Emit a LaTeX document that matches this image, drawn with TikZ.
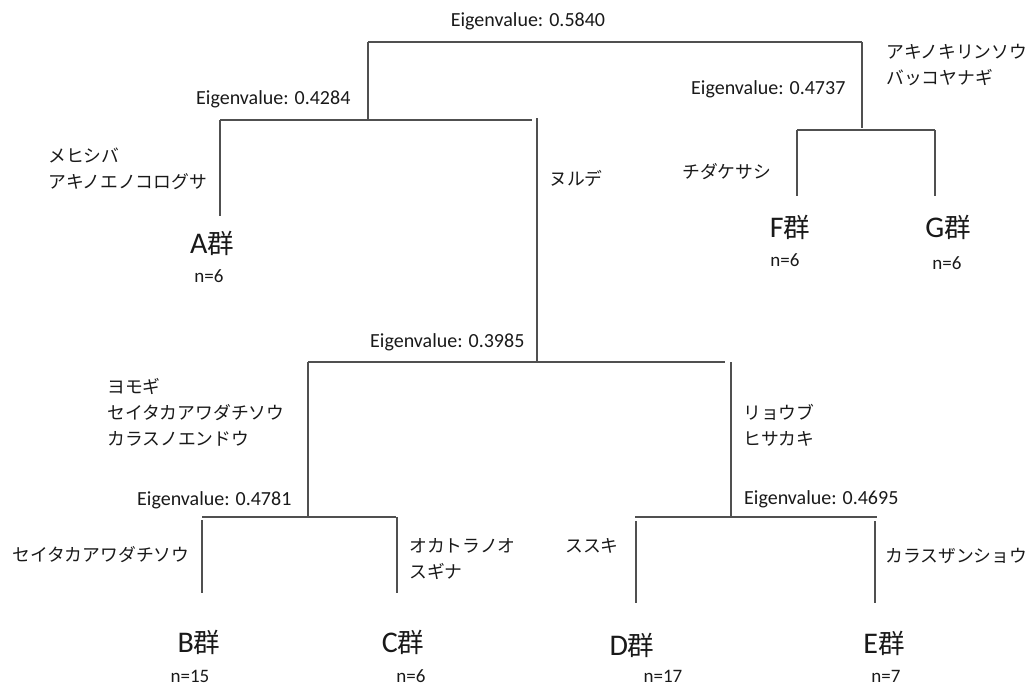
\documentclass[tikz,border=0pt]{standalone}
\usepackage{fontspec}
\setmainfont{Carlito}
\newfontfamily\jp{Noto Sans CJK JP}
\definecolor{linegray}{RGB}{80,80,80}
\definecolor{txt}{RGB}{25,25,25}
\begin{document}
\begin{tikzpicture}[x=1pt,y=-1pt,
  tline/.style={draw=linegray, line width=1.1pt},
  ev/.style={font=\fontsize{20}{24}\selectfont, inner sep=0pt, text=txt},
  sp/.style={font=\jp\fontsize{17.8}{26}\selectfont, align=left, inner sep=0pt, anchor=west, text=txt},
  grp/.style={font=\fontsize{30}{34}\selectfont, inner sep=0pt, text=txt},
  cnt/.style={font=\fontsize{19}{22}\selectfont, inner sep=0pt, text=txt}]
\useasboundingbox (0,0) rectangle (1028,686);
\newcommand{\gun}{{\jp\fontsize{26.5}{30}\selectfont 群}}
% coordinates of the tree
\coordinate (r1) at (368,42);  \coordinate (r2) at (862,42);
\coordinate (r1b) at (368,119); \coordinate (r2b) at (862,128);
\coordinate (s2a) at (220,120); \coordinate (s2b) at (532,120);
\coordinate (Aend) at (220,216);
\coordinate (n1) at (537,118); \coordinate (n1b) at (537,361);
\coordinate (s3a) at (308,362); \coordinate (s3b) at (725,362);
\coordinate (s3ab) at (308,517);
\coordinate (s3c) at (731,362); \coordinate (s3cb) at (731,517);
\coordinate (s4a) at (202,517); \coordinate (s4b) at (396,517);
\coordinate (Bt) at (202,520); \coordinate (Bend) at (202,593);
\coordinate (Ct) at (397,517); \coordinate (Cend) at (397,593);
\coordinate (s5a) at (635,517); \coordinate (s5b) at (877,517);
\coordinate (Dt) at (636,521); \coordinate (Dend) at (636,603);
\coordinate (Et) at (875,521); \coordinate (Eend) at (875,603);
\coordinate (s6a) at (797,130); \coordinate (s6b) at (935,130);
\coordinate (Fend) at (797,196); \coordinate (Gend) at (935,196);
% lines
\draw[tline] (r1) -- (r2);
\draw[tline] (r1) -- (r1b);
\draw[tline] (r2) -- (r2b);
\draw[tline] (s2a) -- (s2b);
\draw[tline] (s2a) -- (Aend);
\draw[tline] (n1) -- (n1b);
\draw[tline] (s3a) -- (s3b);
\draw[tline] (s3a) -- (s3ab);
\draw[tline] (s3c) -- (s3cb);
\draw[tline] (s4a) -- (s4b);
\draw[tline] (Bt) -- (Bend);
\draw[tline] (Ct) -- (Cend);
\draw[tline] (s5a) -- (s5b);
\draw[tline] (Dt) -- (Dend);
\draw[tline] (Et) -- (Eend);
\draw[tline] (s6a) -- (s6b);
\draw[tline] (s6a) -- (Fend);
\draw[tline] (s6b) -- (Gend);
% eigenvalues
\node[ev] (ev1) at (528,21) {Eigenvalue: 0.5840};
\node[ev, anchor=west] (ev2) at (196,99) {Eigenvalue: 0.4284};
\node[ev, anchor=west] (ev3) at (691,89) {Eigenvalue: 0.4737};
\node[ev, anchor=west] (ev4) at (370,342) {Eigenvalue: 0.3985};
\node[ev, anchor=west] (ev5) at (137,500) {Eigenvalue: 0.4781};
\node[ev, anchor=west] (ev6) at (744,499) {Eigenvalue: 0.4695};
% species
\node[sp] (spA) at (48,168.5) {メヒシバ\\アキノエノコログサ};
\node[sp] (spN) at (549,178) {ヌルデ};
\node[sp] (spR) at (886,65) {アキノキリンソウ\\バッコヤナギ};
\node[sp] (spF) at (682,172) {チダケサシ};
\node[sp] (spL) at (107,412) {ヨモギ\\セイタカアワダチソウ\\カラスノエンドウ};
\node[sp] (spRi) at (743,425) {リョウブ\\ヒサカキ};
\node[sp] (spB) at (12,555) {セイタカアワダチソウ};
\node[sp] (spC) at (409,559) {オカトラノオ\\スギナ};
\node[sp] (spD) at (565,546) {ススキ};
\node[sp] (spE) at (885,556) {カラスザンショウ};
% groups
\node[grp] (gA) at (212,243) {A\gun};
\node[grp] (gF) at (790,227) {F\gun};
\node[grp] (gG) at (948,227) {G\gun};
\node[grp] (gB) at (199,642) {B\gun};
\node[grp] (gC) at (403,642) {C\gun};
\node[grp] (gD) at (632,645) {D\gun};
\node[grp] (gE) at (884,643) {E\gun};
% counts
\node[cnt] (nA) at (209,276) {n=6};
\node[cnt] (nF) at (785,260) {n=6};
\node[cnt] (nG) at (947,263) {n=6};
\node[cnt] (nB) at (190,676) {n=15};
\node[cnt] (nC) at (411,676) {n=6};
\node[cnt] (nD) at (663,676) {n=17};
\node[cnt] (nE) at (886,676) {n=7};
\end{tikzpicture}
\end{document}
